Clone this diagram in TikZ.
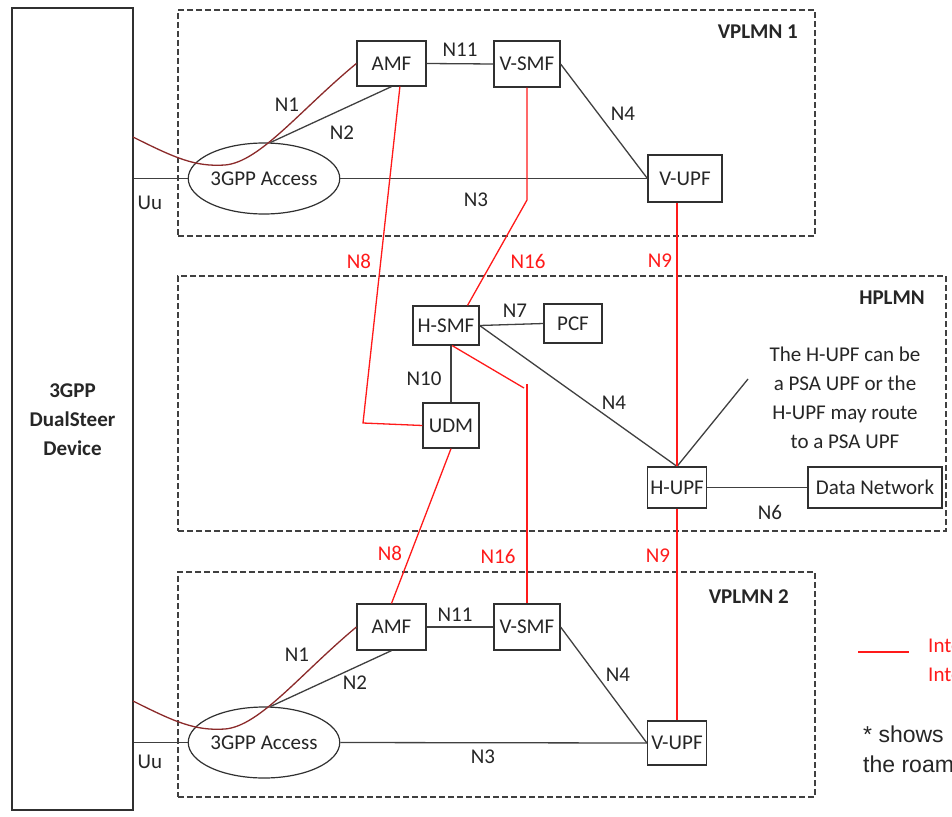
\documentclass[tikz,border=0pt]{standalone}
\usepackage{fontspec}
\setmainfont{Carlito}
\newfontfamily\arialf{Liberation Sans}
\usetikzlibrary{calc,shapes.geometric}
\definecolor{linec}{HTML}{404040}
\definecolor{boxc}{HTML}{303030}
\definecolor{txtc}{HTML}{262626}
\definecolor{redc}{HTML}{FF1A1A}
\definecolor{nonec}{HTML}{8B2A2A}
\definecolor{dashc}{HTML}{404040}
\begin{document}
\begin{tikzpicture}[x=1pt,y=-1pt,
  every node/.style={font=\fontsize{21}{29}\selectfont, text=txtc},
  nf/.style={draw=boxc, line width=1.2pt, inner sep=0pt, fill=white},
  region/.style={draw=dashc, line width=1.1pt, dash pattern=on 6pt off 3pt, inner sep=0pt},
  conn/.style={draw=linec, line width=1.3pt},
  rconn/.style={draw=redc, line width=1.3pt},
  ncurve/.style={draw=nonec, line width=1.3pt},
  lbl/.style={inner sep=0pt},
  rlbl/.style={inner sep=0pt, text=redc},
  ttl/.style={inner sep=0pt, font=\fontsize{21}{29}\selectfont\bfseries}
]
\useasboundingbox[fill=white] (0,0) rectangle (952,816);

% regions
\node[region, minimum width=637pt, minimum height=226pt] (vp1) at (496.5,123) {};
\node[region, minimum width=768pt, minimum height=255pt] (hp) at (562,403.5) {};
\node[region, minimum width=637pt, minimum height=225pt] (vp2) at (496.5,684.5) {};
\node[ttl, anchor=east] (vp1t) at (798,32) {VPLMN 1};
\node[ttl, anchor=east] (hpt) at (925,298) {HPLMN};
\node[ttl, anchor=east] (vp2t) at (789,597) {VPLMN 2};

% device
\node[nf, minimum width=121pt, minimum height=802pt] (dev) at (72.5,409) {};
\node[ttl, align=center] (devt) at (72.5,420) {3GPP\\DualSteer\\Device};

% VPLMN 1
\node[nf, minimum width=69pt, minimum height=45pt] (amf1) at (391.5,63.5) {AMF};
\node[nf, minimum width=66pt, minimum height=46pt] (vsmf1) at (527,64) {V-SMF};
\node[nf, minimum width=74pt, minimum height=47pt] (vupf1) at (685,178.5) {V-UPF};
\node[draw=boxc, line width=1.2pt, ellipse, inner sep=0pt, minimum width=140pt, minimum height=71pt] (acc1) at (264,178.5) {3GPP Access};

% HPLMN
\node[nf, minimum width=66pt, minimum height=39pt] (hsmf) at (446,325.5) {H-SMF};
\node[nf, minimum width=58pt, minimum height=39pt] (pcf) at (573,323.5) {PCF};
\node[nf, minimum width=56pt, minimum height=45pt] (udm) at (451,425.5) {UDM};
\node[nf, minimum width=59pt, minimum height=41pt] (hupf) at (677,487.5) {H-UPF};
\node[nf, minimum width=134pt, minimum height=41pt] (dn) at (875,487.5) {Data Network};
\node[lbl, align=center] (note) at (845,398) {The H-UPF can be\\a PSA UPF or the\\H-UPF may route\\to a PSA UPF};

% VPLMN 2
\node[nf, minimum width=69pt, minimum height=46pt] (amf2) at (391.5,627) {AMF};
\node[nf, minimum width=66pt, minimum height=46pt] (vsmf2) at (527,627) {V-SMF};
\node[nf, minimum width=59pt, minimum height=44pt] (vupf2) at (677,743) {V-UPF};
\node[draw=boxc, line width=1.2pt, ellipse, inner sep=0pt, minimum width=140pt, minimum height=71pt] (acc2) at (264,742.5) {3GPP Access};

% coordinates
\coordinate (n1a) at (133,137);
\coordinate (n1b) at (133,701);
\coordinate (notep) at (748,379);
\coordinate (n8c) at (363,423);
\coordinate (n16a) at (527,200);
\coordinate (n16b) at (524,388);
\coordinate (n16c) at (527,384);

% VPLMN1 connectors
\draw[conn] (dev.east |- acc1.west) -- (acc1.west);
\draw[conn] (acc1.east) -- (vupf1.west);
\draw[conn] (amf1.east) -- (vsmf1.west);
\draw[conn] (vsmf1.east) -- (vupf1.west);
\draw[conn] (acc1.80) -- (amf1.south);
\draw[ncurve] (n1a) .. controls (175,158) and (195,167) .. (225,165) .. controls (260,162) and (300,110) .. (amf1.west);

% VPLMN2 connectors
\draw[conn] (dev.east |- acc2.west) -- (acc2.west);
\draw[conn] (acc2.east) -- (vupf2.west);
\draw[conn] (amf2.east) -- (vsmf2.west);
\draw[conn] (vsmf2.east) -- (vupf2.west);
\draw[conn] (acc2.80) -- (amf2.south);
\draw[ncurve] (n1b) .. controls (175,722) and (195,731) .. (225,729) .. controls (260,726) and (300,674) .. (amf2.west);

% HPLMN connectors
\draw[conn] (hsmf.east) -- (pcf.west);
\draw[conn] (udm.north) -- (udm.north |- hsmf.south);
\draw[conn] (hsmf.east) -- (hupf.north);
\draw[conn] (hupf.north) -- (notep);
\draw[conn] (hupf.east) -- (dn.west);

% red inter-PLMN connectors
\draw[rconn] (amf1.-70) -- (n8c) -- (udm.west);
\draw[rconn] (vsmf1.south) -- (n16a) -- (hsmf.43);
\draw[rconn] (hupf.north) -- (hupf.north |- vupf1.south);
\draw[rconn] (udm.south) -- (amf2.north);
\draw[rconn] (hsmf.-73) -- (n16b);
\draw[rconn] (n16c) -- (n16c |- vsmf2.north);
\draw[rconn] (hupf.south) -- (hupf.south |- vupf2.north);

% labels
\node[lbl] (l1) at (287,105) {N1};
\node[lbl] (l2) at (342,133) {N2};
\node[lbl] (l3) at (460,50) {N11};
\node[lbl] (l4) at (623,114) {N4};
\node[lbl] (l5) at (476,200) {N3};
\node[lbl] (l6) at (150,203) {Uu};
\node[lbl] (l7) at (515,311) {N7};
\node[lbl] (l8) at (424,379) {N10};
\node[lbl] (l9) at (614,403) {N4};
\node[lbl] (l10) at (770,512) {N6};
\node[lbl] (l11) at (297,655) {N1};
\node[lbl] (l12) at (355,683) {N2};
\node[lbl] (l13) at (455,615) {N11};
\node[lbl] (l14) at (618,675) {N4};
\node[lbl] (l15) at (483,757) {N3};
\node[lbl] (l16) at (150,762) {Uu};
\node[rlbl] (r1) at (359,261) {N8};
\node[rlbl] (r2) at (528,261) {N16};
\node[rlbl] (r3) at (660,261) {N9};
\node[rlbl] (r4) at (390,553) {N8};
\node[rlbl] (r5) at (498,556) {N16};
\node[rlbl] (r6) at (658,556) {N9};

% legend
\coordinate (lga) at (858,652);
\coordinate (lgb) at (909,652);
\draw[rconn, line width=1.6pt] (lga) -- (lgb);
\node[rlbl, anchor=west, align=left] (lgt) at (928,660) {Inter-PLMN\\Interfaces};
\node[lbl, anchor=west, align=left, font=\arialf\fontsize{23}{30}\selectfont] (lgn) at (863,752) {* shows\\the roaming};
\end{tikzpicture}
\end{document}
